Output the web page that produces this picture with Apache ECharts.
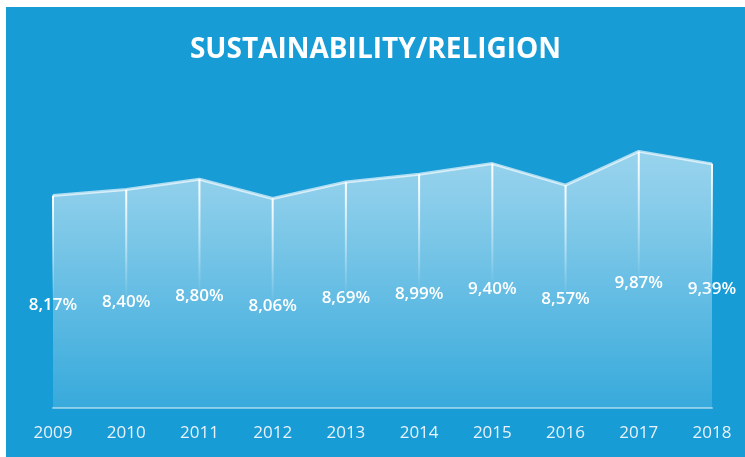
<!DOCTYPE html>
<html>
<head>
<meta charset="utf-8">
<script src="https://cdn.jsdelivr.net/npm/echarts@6/dist/echarts.min.js"></script>
<style>
  html, body { margin: 0; padding: 0; background: #fff; }
  #chart { position: absolute; left: 6px; top: 7px; width: 739px; height: 450px; }
</style>
</head>
<body>
<div id="chart"></div>
<script>
// years and share (%) per year
const years = ['2009', '2010', '2011', '2012', '2013', '2014', '2015', '2016', '2017', '2018'];
const values = [8.17, 8.40, 8.80, 8.06, 8.69, 8.99, 9.40, 8.57, 9.87, 9.39];

const chart = echarts.init(document.getElementById('chart'));

const option = {
  backgroundColor: '#179cd6',
  animation: false,
  title: {
    text: 'SUSTAINABILITY/RELIGION',
    left: 'center',
    top: 24,
    textStyle: {
      color: '#fff',
      fontSize: 28,
      fontWeight: 'bold',
      fontFamily: 'Open Sans'
    }
  },
  grid: { left: 47, right: 33, top: 141, bottom: 49 },
  xAxis: {
    type: 'category',
    data: years,
    boundaryGap: false,
    axisLine: { lineStyle: { color: 'rgba(255,255,255,0.45)', width: 2 } },
    axisTick: { show: false },
    axisLabel: {
      color: '#e8f2fa',
      fontSize: 17,
      fontFamily: 'Open Sans',
      margin: 17
    }
  },
  yAxis: {
    type: 'value',
    min: 0,
    max: 10,
    show: false,
    splitLine: { show: false }
  },
  series: [
    {
      type: 'line',
      data: values,
      symbol: 'none',
      lineStyle: { color: 'rgba(255,255,255,0.65)', width: 3 },
      areaStyle: {
        color: new echarts.graphic.LinearGradient(0, 0, 0, 1, [
          { offset: 0, color: 'rgba(255,255,255,0.8)' },
          { offset: 0.2, color: 'rgba(255,255,255,0.7)' },
          { offset: 1, color: 'rgba(255,255,255,0.2)' }
        ])
      },
      z: 2
    },
    {
      // thin fading drop lines + value labels at mid height
      type: 'bar',
      data: values,
      barWidth: 2,
      itemStyle: {
        color: new echarts.graphic.LinearGradient(0, 0, 0, 1, [
          { offset: 0, color: 'rgba(255,255,255,1)' },
          { offset: 0.5, color: 'rgba(255,255,255,0)' },
          { offset: 1, color: 'rgba(255,255,255,0)' }
        ])
      },
      label: {
        show: true,
        position: 'inside',
        offset: [0, 3],
        color: '#fff',
        fontSize: 17,
        fontWeight: 600,
        fontFamily: 'Open Sans',
        formatter: p => p.value.toFixed(2).replace('.', ',') + '%'
      },
      z: 3
    }
  ]
};

chart.setOption(option);
</script>
</body>
</html>
